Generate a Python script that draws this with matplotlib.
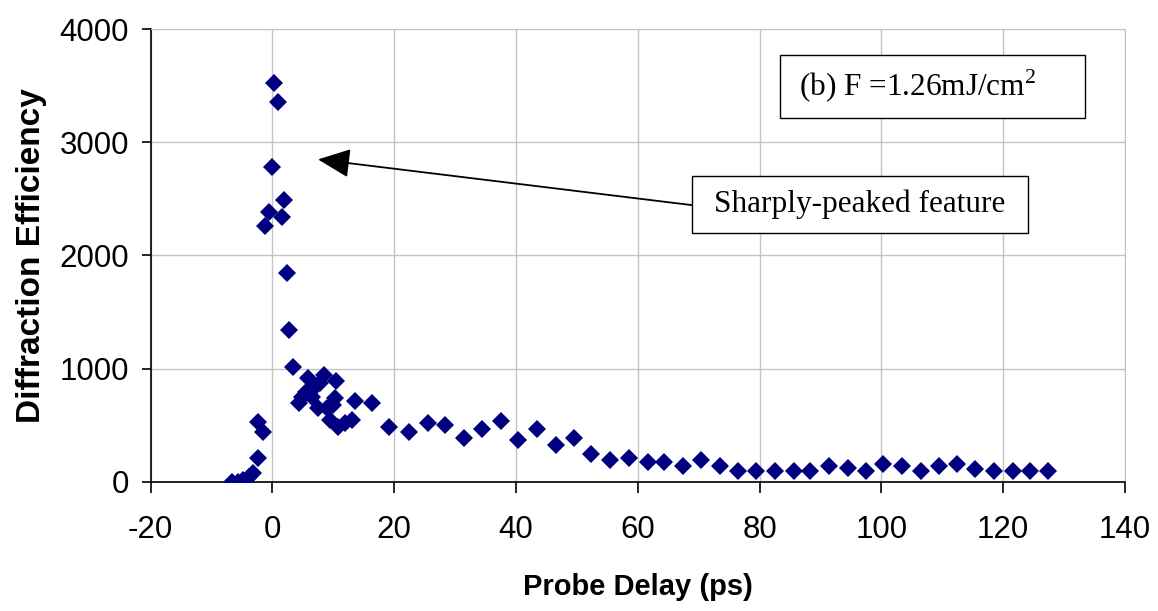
import matplotlib
matplotlib.use("Agg")
import matplotlib.pyplot as plt
from matplotlib.patches import Rectangle

plt.rcParams['axes.unicode_minus'] = False
plt.rcParams['mathtext.fontset'] = 'custom'
plt.rcParams['mathtext.rm'] = 'Liberation Serif'

# probe delay (ps) and diffraction efficiency
delay = [-6.7, -5.6, -4.8, -3.9, -3.1, -2.4, -2.3, -1.6,
         -1.15, -0.6, 0.0, 0.33, 0.94, 1.6, 1.92, 2.47, 2.74, 3.4,
         4.3, 4.8, 5.6, 5.8, 6.5, 6.8, 7.5, 7.8, 8.4, 8.9, 9.5,
         10.0, 10.3, 10.5, 10.8, 11.9, 13.0, 13.5, 16.3, 19.2,
         22.5, 25.6, 28.4, 31.5, 34.5, 37.6, 40.4, 43.4, 46.5, 49.6,
         52.4, 55.4, 58.5, 61.6, 64.3, 67.4, 70.4, 73.5, 76.4, 79.4,
         82.5, 85.6, 88.3, 91.4, 94.5, 97.5, 100.3, 103.4, 106.5, 109.5,
         112.4, 115.4, 118.5, 121.6, 124.4, 127.4]
eff = [0, 0, 15, 44, 74, 207, 530, 442,
       2262, 2380, 2777, 3525, 3352, 2341, 2489, 1841, 1340, 1016,
       693, 751, 795, 919, 751, 825, 654, 869, 943, 654, 545,
       678, 737, 890, 486, 516, 545, 716, 692, 486,
       442, 521, 498, 386, 463, 539, 366, 463, 327, 386,
       247, 194, 212, 174, 174, 136, 192, 139, 97, 97,
       97, 97, 97, 136, 118, 97, 156, 139, 97, 139,
       156, 115, 97, 97, 97, 97]

xticks = [-20, 0, 20, 40, 60, 80, 100, 120, 140]
yticks = [0, 1000, 2000, 3000, 4000]

label_text = r"(b) F =1.26mJ/cm$^{2}$"
note_text = "Sharply-peaked feature"
arrow_tip = (7.5, 2848)
arrow_tail = (68.9, 2444)

fig = plt.figure(figsize=(11.58, 6.11), dpi=100)
ax = fig.add_axes([0.130, 0.2116, 0.8415, 0.7409])

ax.plot(delay, eff, 'D', color='#000080', ms=9.3, mew=0, zorder=3)

ax.set_xlim(-20, 140)
ax.set_ylim(0, 4000)
ax.set_xticks(xticks)
ax.set_yticks(yticks)
ax.grid(True, color='#c4c4c4', lw=1.0)
ax.set_axisbelow(True)
for s in ['top', 'right']:
    ax.spines[s].set_color('#c4c4c4')
for s in ['left', 'bottom']:
    ax.spines[s].set_color('black')
    ax.spines[s].set_linewidth(1.2)

ax.tick_params(axis='x', direction='out', length=8, width=1.2, pad=16)
ax.tick_params(axis='y', direction='out', length=6.5, width=1.2, pad=9)
for lab in ax.get_xticklabels() + ax.get_yticklabels():
    lab.set_family('Liberation Sans')
    lab.set_fontsize(22.5)

ax.set_xlabel("Probe Delay (ps)", family='Liberation Sans', fontweight='bold',
              fontsize=21, labelpad=20)
ax.set_ylabel("Diffraction Efficiency", family='Liberation Sans', fontweight='bold',
              fontsize=24, labelpad=9)

# boxed labels
ax.add_patch(Rectangle((0.646, 0.804), 0.313, 0.139, transform=ax.transAxes,
                       fill=True, facecolor='white', edgecolor='black', lw=1.0, zorder=4))
ax.text(0.7876, 0.873, label_text, transform=ax.transAxes, ha='center', va='center',
        family='Liberation Serif', fontsize=22.5, zorder=5)

ax.add_patch(Rectangle((0.5554, 0.5487), 0.3454, 0.1273, transform=ax.transAxes,
                       fill=True, facecolor='white', edgecolor='black', lw=1.0, zorder=4))
ax.text(0.7277, 0.613, note_text, transform=ax.transAxes, ha='center', va='center',
        family='Liberation Serif', fontsize=22.5, zorder=5)

ax.annotate('', xy=arrow_tip, xytext=arrow_tail,
            arrowprops=dict(arrowstyle='-|>,head_length=1.0,head_width=0.45',
                            color='black', lw=1.3, mutation_scale=20,
                            shrinkA=0, shrinkB=0), zorder=5)

fig.savefig('out.png', dpi=100)
